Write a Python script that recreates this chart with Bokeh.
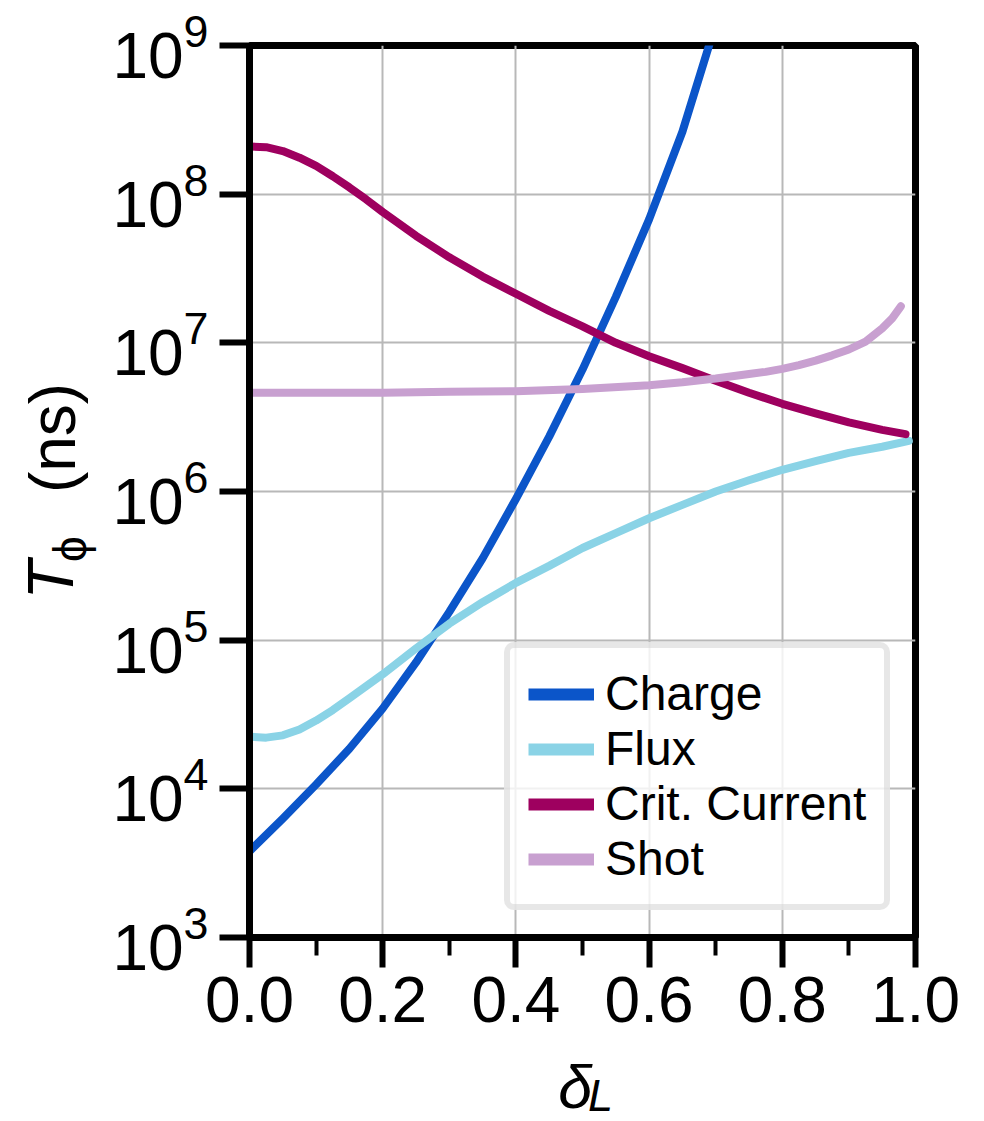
import math
from bokeh.plotting import figure
from bokeh.layouts import row, column
from bokeh.models import (ColumnDataSource, FixedTicker, LogTickFormatter, PrintfTickFormatter,
                          Legend, LegendItem, Label, Range1d)
from bokeh.embed import file_html
from bokeh.resources import INLINE

# ---------------- data ----------------
delta_charge = [0.0, 0.05, 0.10, 0.15, 0.20, 0.25, 0.30, 0.35, 0.40, 0.45, 0.50, 0.55, 0.60, 0.65, 0.69, 0.70]
T_charge = [3.80e3, 6.31e3, 1.07e4, 1.86e4, 3.47e4, 7.08e4, 1.55e5, 3.55e5, 8.91e5,
            2.34e6, 6.61e6, 2.04e7, 6.76e7, 2.63e8, 1.0e9, 1.38e9]

delta_flux = [0.0, 0.025, 0.05, 0.075, 0.10, 0.125, 0.15, 0.175, 0.20, 0.25, 0.30, 0.35, 0.40, 0.45, 0.50,
              0.55, 0.60, 0.65, 0.70, 0.75, 0.80, 0.85, 0.90, 0.95, 0.99]
T_flux = [2.24e4, 2.21e4, 2.29e4, 2.51e4, 2.88e4, 3.39e4, 4.07e4, 4.90e4, 5.89e4, 8.81e4, 1.29e5,
          1.80e5, 2.43e5, 3.16e5, 4.17e5, 5.25e5, 6.61e5, 8.13e5, 1.00e6, 1.19e6, 1.40e6, 1.60e6,
          1.82e6, 2.00e6, 2.19e6]

delta_crit = [0.0, 0.025, 0.05, 0.075, 0.10, 0.125, 0.15, 0.175, 0.20, 0.25, 0.30, 0.35, 0.40, 0.45, 0.50,
              0.55, 0.60, 0.65, 0.70, 0.75, 0.80, 0.85, 0.90, 0.95, 0.985]
T_crit = [2.09e8, 2.07e8, 1.95e8, 1.76e8, 1.55e8, 1.32e8, 1.11e8, 9.23e7, 7.59e7, 5.25e7, 3.76e7,
          2.79e7, 2.14e7, 1.64e7, 1.29e7, 1.00e7, 8.13e6, 6.76e6, 5.56e6, 4.62e6, 3.89e6, 3.35e6,
          2.92e6, 2.60e6, 2.43e6]

delta_shot = [0.0, 0.10, 0.20, 0.30, 0.40, 0.50, 0.60, 0.65, 0.70, 0.75, 0.775, 0.80, 0.825,
              0.85, 0.875, 0.90, 0.925, 0.95, 0.965, 0.978]
T_shot = [4.62e6, 4.62e6, 4.62e6, 4.68e6, 4.73e6, 4.90e6, 5.19e6, 5.43e6, 5.75e6, 6.17e6, 6.38e6,
          6.68e6, 7.08e6, 7.59e6, 8.24e6, 9.02e6, 1.02e7, 1.25e7, 1.46e7, 1.76e7]

series_names = ["Charge", "Flux", "Crit. Current", "Shot"]
series_colors = ["#0b55c9", "#8ad3e6", "#9e005f", "#c8a0d0"]

x_ticks = [0.0, 0.2, 0.4, 0.6, 0.8, 1.0]
x_minor_ticks = [0.1, 0.3, 0.5, 0.7, 0.9]
y_ticks = [1e3, 1e4, 1e5, 1e6, 1e7, 1e8, 1e9]

FONT = "Liberation Sans"

W_TOTAL, H_TOTAL = 984, 1121
W_YLAB = 100
H_TOP = 1052
B_TOP, B_BOTTOM = 45, 115          # borders of the plotting area in the top row
B_LEFT, B_RIGHT = 149, 69          # borders of the main figure

# ---------------- main figure ----------------
p = figure(width=W_TOTAL - W_YLAB, height=H_TOP, y_axis_type="log",
           x_range=Range1d(0, 1), y_range=Range1d(1e3, 1e9),
           output_backend="svg", toolbar_location=None,
           min_border_left=B_LEFT, min_border_right=B_RIGHT,
           min_border_top=B_TOP, min_border_bottom=B_BOTTOM)

p.background_fill_color = "white"
p.border_fill_color = "white"
p.outline_line_color = "black"
p.outline_line_width = 7

for g in (p.xgrid, p.ygrid):
    g.grid_line_color = "#b8b8b8"
    g.grid_line_width = 2

p.xaxis.ticker = FixedTicker(ticks=x_ticks, minor_ticks=x_minor_ticks)
p.xaxis.formatter = PrintfTickFormatter(format="%.1f")
p.yaxis.ticker = FixedTicker(ticks=y_ticks, minor_ticks=[])
p.yaxis.formatter = LogTickFormatter()

for ax in (p.xaxis, p.yaxis):
    ax.axis_line_color = "black"
    ax.axis_line_width = 7
    ax.major_tick_line_color = "black"
    ax.major_tick_line_width = 6
    ax.major_tick_in = 0
    ax.major_tick_out = 30
    ax.major_label_text_font = FONT
    ax.major_label_text_font_size = "64px"
    ax.major_label_text_color = "black"

p.xaxis.minor_tick_line_color = "black"
p.xaxis.minor_tick_line_width = 4
p.xaxis.minor_tick_in = 0
p.xaxis.minor_tick_out = 18
p.xaxis.major_label_standoff = 9
p.yaxis.minor_tick_line_color = None
p.yaxis.major_label_standoff = 11

# ---------------- curves ----------------
xs = [delta_charge, delta_flux, delta_crit, delta_shot]
ys = [T_charge, T_flux, T_crit, T_shot]
items = []
for name, color, x, y in zip(series_names, series_colors, xs, ys):
    src = ColumnDataSource(dict(x=x, y=y))
    p.line("x", "y", source=src, line_color=color, line_width=8, line_cap="round", line_join="round")
    # hidden twin, only used to draw a thicker legend swatch
    proxy = p.line("x", "y", source=src, line_color=color, line_width=12, visible=False)
    items.append(LegendItem(label=name, renderers=[proxy]))

legend = Legend(items=items, location=(255, 27), margin=0, padding=18, spacing=0,
                glyph_width=66, glyph_height=40, label_standoff=11,
                label_text_font=FONT, label_text_font_size="48px", label_text_color="black",
                label_height=55, click_policy="none",
                border_line_color="#cfcfcf", border_line_width=6,
                background_fill_color="white", background_fill_alpha=0.8)
if "border_radius" in Legend.properties():
    legend.border_radius = 10
p.add_layout(legend, "center")

# ---------------- y-axis title panel (same vertical scale as the plot) ----------------
ylab = figure(width=W_YLAB, height=H_TOP, y_axis_type="log",
              x_range=Range1d(0, W_YLAB), y_range=Range1d(1e3, 1e9),
              x_axis_location=None, y_axis_location=None,
              min_border_left=0, min_border_right=0, min_border_top=B_TOP, min_border_bottom=B_BOTTOM,
              output_backend="svg", toolbar_location=None)
ylab.outline_line_color = None
ylab.xgrid.visible = False
ylab.ygrid.visible = False
ylab.add_layout(Label(x=50, y=2.54e5, text="T", angle=math.pi / 2,
                      text_font=FONT, text_font_style="italic", text_font_size="64px",
                      text_align="center", text_baseline="middle", text_color="black"))
ylab.add_layout(Label(x=69, y=4.10e5, text="\u03d5", angle=math.pi / 2,
                      text_font=FONT, text_font_size="46px",
                      text_align="center", text_baseline="middle", text_color="black"))
ylab.add_layout(Label(x=52, y=2.29e6, text="(ns)", angle=math.pi / 2,
                      text_font=FONT, text_font_size="64px",
                      text_align="center", text_baseline="middle", text_color="black"))

# ---------------- x-axis title panel (same horizontal scale as the plot) ----------------
H_XLAB = H_TOTAL - H_TOP
xlab = figure(width=W_TOTAL, height=H_XLAB, x_range=Range1d(0, 1), y_range=Range1d(0, H_XLAB),
              x_axis_location=None, y_axis_location=None,
              min_border_left=W_YLAB + B_LEFT, min_border_right=B_RIGHT,
              min_border_top=0, min_border_bottom=0,
              output_backend="svg", toolbar_location=None)
xlab.outline_line_color = None
xlab.xgrid.visible = False
xlab.ygrid.visible = False
xlab.add_layout(Label(x=0.489, y=34.5, text="\u03b4",
                      text_font=FONT, text_font_style="italic", text_font_size="61px",
                      text_align="center", text_baseline="middle", text_color="black"))
xlab.add_layout(Label(x=0.527, y=26, text="L",
                      text_font=FONT, text_font_style="italic", text_font_size="45px",
                      text_align="center", text_baseline="middle", text_color="black"))

page = column(row(ylab, p), xlab)

open("out.html", "w").write(file_html(page, INLINE))
